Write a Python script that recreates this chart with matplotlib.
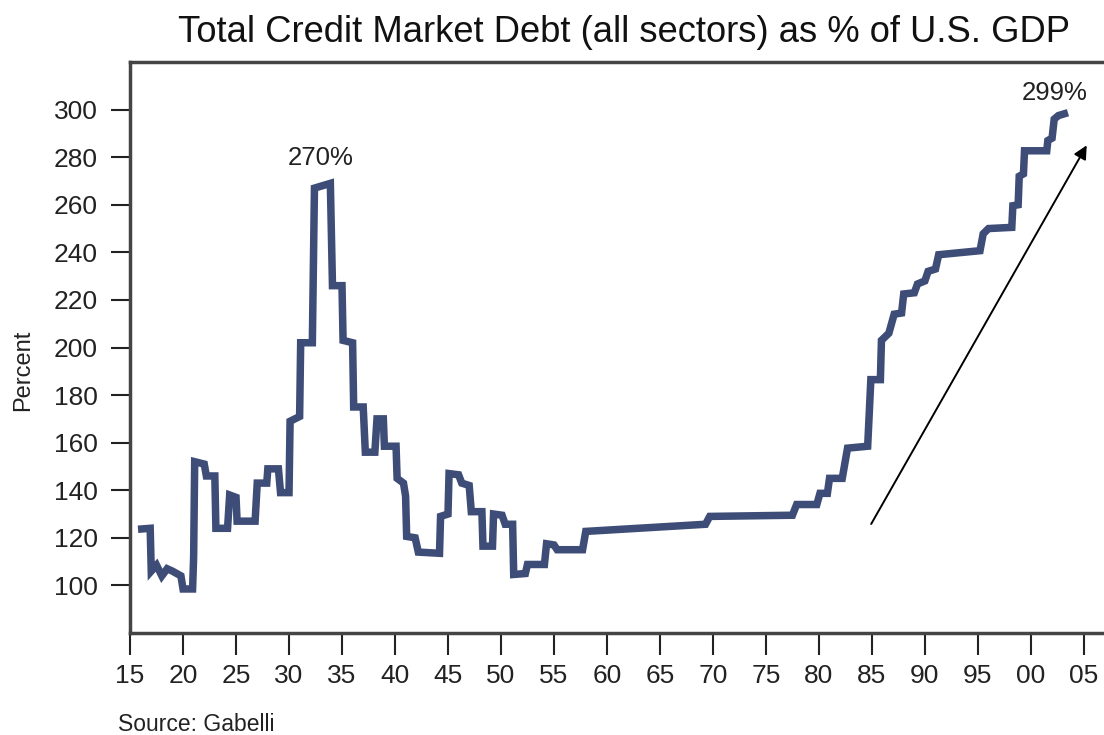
import matplotlib
matplotlib.use("Agg")
import matplotlib.pyplot as plt

# Debt as % of GDP (year, percent)
years = [1915.75, 1916.9, 1917.0, 1917.5, 1918.0, 1918.5, 1919.0, 1919.8, 1920.0, 1920.9,
         1921.0, 1921.1, 1922.0, 1922.2, 1923.0, 1923.1, 1924.2, 1924.4, 1925.0, 1925.1,
         1926.8, 1927.0, 1927.9, 1928.0, 1929.0, 1929.2, 1930.0, 1930.1, 1931.0, 1931.1,
         1932.2, 1932.4, 1933.9, 1934.1, 1935.0, 1935.1, 1936.0, 1936.1, 1937.0, 1937.2,
         1938.1, 1938.3, 1938.9, 1939.0, 1940.1, 1940.2, 1940.8, 1941.0, 1941.1, 1941.9,
         1942.2, 1944.2, 1944.3, 1945.0, 1945.1, 1946.0, 1946.3, 1947.0, 1947.2, 1948.2,
         1948.3, 1949.2, 1949.3, 1950.1, 1950.4, 1951.1, 1951.2, 1952.3, 1952.5, 1954.1,
         1954.3, 1955.0, 1955.3, 1957.7, 1958.0, 1969.3, 1969.7, 1977.5, 1977.9, 1979.8,
         1980.1, 1980.8, 1981.0, 1982.2, 1982.7, 1984.6, 1984.9, 1985.8, 1985.9, 1986.6,
         1987.1, 1987.8, 1988.0, 1989.0, 1989.3, 1990.0, 1990.3, 1991.0, 1991.3, 1995.2,
         1995.5, 1996.0, 1998.2, 1998.3, 1998.8, 1998.9, 1999.3, 1999.4, 2001.5, 2001.6,
         2002.0, 2002.2, 2002.6, 2003.5]
debt_pct = [123.6, 124.0, 106.0, 108.5, 104.0, 107.0, 106.0, 104.0, 98.5, 98.5,
            112.0, 152.0, 151.0, 146.0, 146.0, 124.0, 124.0, 138.0, 137.0, 127.0,
            127.0, 143.0, 143.0, 149.0, 149.0, 139.0, 139.0, 169.0, 171.0, 202.0,
            202.0, 267.0, 269.0, 226.0, 226.0, 203.0, 202.0, 175.0, 175.0, 156.0,
            156.0, 170.0, 170.0, 158.5, 158.5, 145.0, 143.0, 137.5, 120.6, 120.0,
            114.0, 113.5, 129.0, 130.0, 147.0, 146.5, 143.0, 142.0, 131.0, 131.0,
            116.5, 116.5, 130.0, 129.5, 125.7, 125.7, 104.6, 105.0, 108.8, 108.8,
            117.5, 117.0, 115.0, 115.0, 122.7, 125.7, 129.0, 129.5, 134.0, 134.0,
            138.7, 138.7, 145.0, 145.0, 157.7, 158.5, 186.5, 186.5, 203.0, 206.0,
            214.0, 214.5, 222.5, 223.0, 226.7, 228.0, 232.0, 233.0, 239.0, 240.7,
            247.8, 250.0, 250.5, 259.6, 260.0, 272.0, 273.0, 282.7, 282.7, 287.0,
            288.0, 296.0, 297.5, 298.7]

x_ticks = list(range(1915, 2006, 5))
x_labels = [f"{t % 100:02d}" for t in x_ticks]
y_ticks = list(range(100, 301, 20))

plt.rcParams["font.family"] = ["Liberation Sans", "DejaVu Sans"]

fig = plt.figure(figsize=(11.04, 7.35), dpi=100)
ax = fig.add_axes([0.1178, 0.1388, 0.8822, 0.7768])

ax.plot(years, debt_pct, color="#3e4d77", lw=5.4, solid_joinstyle="miter",
        solid_capstyle="butt")

ax.annotate("", xy=(2005.4, 286), xytext=(1984.8, 124.8),
            arrowprops=dict(arrowstyle="-|>", color="black", lw=1.4,
                            mutation_scale=20))
ax.text(1933.0, 279.5, "270%", ha="center", va="center", fontsize=18.5, color="#222222")
ax.text(2002.2, 307, "299%", ha="center", va="center", fontsize=18.5, color="#222222")

ax.set_xlim(1915, 2006.9)
ax.set_ylim(80, 320)
ax.set_xticks(x_ticks)
ax.set_xticklabels(x_labels)
ax.set_yticks(y_ticks)
ax.tick_params(axis="both", direction="out", width=1.5, labelsize=19,
               colors="#222222")
ax.tick_params(axis="x", length=16, pad=6)
ax.tick_params(axis="y", length=14, pad=9)
for side in ["left", "bottom", "top"]:
    ax.spines[side].set_linewidth(2.5)
    ax.spines[side].set_color("#444444")
ax.spines["right"].set_visible(False)

ax.set_ylabel("Percent", fontsize=17, color="#222222")
ax.yaxis.set_label_coords(-0.099, 0.46)
fig.text(0.565, 0.956, "Total Credit Market Debt (all sectors) as % of U.S. GDP",
         ha="center", va="center", fontsize=26.2, color="#111111")
fig.text(0.107, 0.006, "Source: Gabelli", fontsize=16.5, color="#222222",
         va="baseline")

fig.savefig("out.png", dpi=100)
